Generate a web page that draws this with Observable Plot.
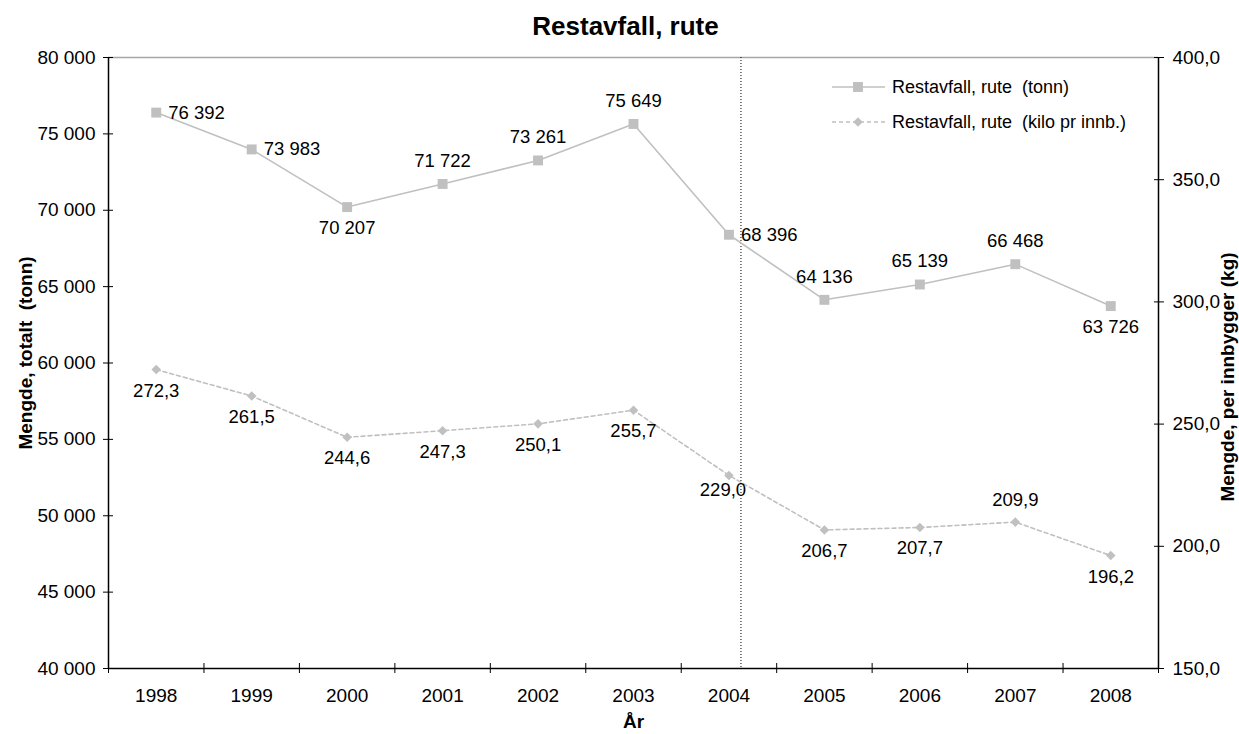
<!DOCTYPE html>
<html>
<head>
<meta charset="utf-8">
<script src="https://cdn.jsdelivr.net/npm/d3@7"></script>
<script src="https://cdn.jsdelivr.net/npm/@observablehq/plot@0.6"></script>
<style>
  html, body { margin: 0; padding: 0; background: #fff; }
  #wrap { position: relative; width: 1239px; height: 734px; font-family: "Liberation Sans", Arial, sans-serif; }
  svg text { white-space: pre; }
</style>
</head>
<body>
<div id="wrap"></div>
<script>
// ---- data ----
const years = [1998, 1999, 2000, 2001, 2002, 2003, 2004, 2005, 2006, 2007, 2008];
const tonn = [76392, 73983, 70207, 71722, 73261, 75649, 68396, 64136, 65139, 66468, 63726];
const kiloPerInnb = [272.3, 261.5, 244.6, 247.3, 250.1, 255.7, 229.0, 206.7, 207.7, 209.9, 196.2];
const tonnLabelPlacement = ["right", "right", "below", "above", "above", "above", "right", "above", "above", "above", "below"];
const kiloLabelPlacement = ["below", "below", "below", "below", "below", "below", "belowLeft", "below", "below", "above", "below"];
const leftTicks = [40000, 45000, 50000, 55000, 60000, 65000, 70000, 75000, 80000];
const rightTicks = [150, 200, 250, 300, 350, 400];
const markedYear = 2004;
const title = "Restavfall, rute";
const leftTitle = "Mengde, totalt  (tonn)";
const rightTitle = "Mengde, per innbygger (kg)";
const xTitle = "År";
const seriesNames = ["Restavfall, rute  (tonn)", "Restavfall, rute  (kilo pr innb.)"];

// ---- helpers ----
const loc = d3.formatLocale({decimal: ",", thousands: " ", grouping: [3], currency: ["", ""]});
const fmtInt = loc.format(",.0f");
const fmt1 = loc.format(",.1f");
const leftDomain = [d3.min(leftTicks), d3.max(leftTicks)];
const rightDomain = [d3.min(rightTicks), d3.max(rightTicks)];
const toLeft = v => leftDomain[0] + (v - rightDomain[0]) * (leftDomain[1] - leftDomain[0]) / (rightDomain[1] - rightDomain[0]);
const toRight = v => rightDomain[0] + (v - leftDomain[0]) * (rightDomain[1] - rightDomain[0]) / (leftDomain[1] - leftDomain[0]);

const rows = years.map((year, i) => ({
  year, tonn: tonn[i], kilo: kiloPerInnb[i], kiloLeft: toLeft(kiloPerInnb[i]),
  tPos: tonnLabelPlacement[i], kPos: kiloLabelPlacement[i]
}));
const xMin = d3.min(years) - 0.5, xMax = d3.max(years) + 0.5;
const boundaries = d3.range(xMin, xMax + 0.01, 1);

const grey = "#c0c0c0";
const lblBase = {fill: "black", fontSize: 18.5};

const chart = Plot.plot({
  width: 1239, height: 734,
  marginTop: 57, marginBottom: 66, marginLeft: 108, marginRight: 81,
  style: {fontFamily: "'Liberation Sans', Arial, sans-serif", fontSize: "19px", background: "white", color: "black"},
  x: {domain: [xMin, xMax], axis: null, label: null},
  y: {domain: leftDomain, axis: null, label: null},
  marks: [
    Plot.ruleY([leftDomain[1]], {stroke: "#a6a6a6", strokeWidth: 1.5}),
    Plot.ruleX([markedYear], {dx: 12, stroke: "black", strokeWidth: 1, strokeDasharray: "1,2"}),
    Plot.line(rows, {x: "year", y: "tonn", stroke: grey, strokeWidth: 1.6}),
    Plot.line(rows, {x: "year", y: "kiloLeft", stroke: grey, strokeWidth: 1.6, strokeDasharray: "4,3"}),
    Plot.dot(rows, {x: "year", y: "tonn", symbol: "square", r: 5.6, fill: grey, stroke: "none"}),
    Plot.dot(rows, {x: "year", y: "kiloLeft", symbol: "diamond2", r: 4.3, fill: grey, stroke: "none"}),
    // tonn labels
    Plot.text(rows.filter(d => d.tPos === "right"), {x: "year", y: "tonn", text: d => fmtInt(d.tonn), dx: 12, textAnchor: "start", ...lblBase}),
    Plot.text(rows.filter(d => d.tPos === "above"), {x: "year", y: "tonn", text: d => fmtInt(d.tonn), dy: -23, ...lblBase}),
    Plot.text(rows.filter(d => d.tPos === "below"), {x: "year", y: "tonn", text: d => fmtInt(d.tonn), dy: 21, ...lblBase}),
    // kilo labels
    Plot.text(rows.filter(d => d.kPos === "below"), {x: "year", y: "kiloLeft", text: d => fmt1(d.kilo), dy: 21, ...lblBase}),
    Plot.text(rows.filter(d => d.kPos === "belowLeft"), {x: "year", y: "kiloLeft", text: d => fmt1(d.kilo), dx: -6, dy: 15, ...lblBase}),
    Plot.text(rows.filter(d => d.kPos === "above"), {x: "year", y: "kiloLeft", text: d => fmt1(d.kilo), dy: -22, ...lblBase}),
    // frame axes lines
    Plot.ruleX([xMin, xMax], {stroke: "black", strokeWidth: 1.5}),
    Plot.ruleY([leftDomain[0]], {stroke: "black", strokeWidth: 1.5}),
    // x ticks (crossing) and labels
    Plot.axisX(boundaries, {anchor: "bottom", tickSize: 10, dy: -5, tickFormat: () => "", stroke: "black", label: null}),
    Plot.axisX(years, {anchor: "bottom", tickSize: 0, tickPadding: 20, tickFormat: d => String(d), fontSize: 19, label: null}),
    // left axis
    Plot.axisY(leftTicks, {anchor: "left", tickSize: 10, dx: 5, tickFormat: () => "", stroke: "black", label: null}),
    Plot.axisY(leftTicks, {anchor: "left", tickSize: 0, tickPadding: 13, tickFormat: fmtInt, fontSize: 19, label: null}),
    // right axis
    Plot.axisY(rightTicks.map(toLeft), {anchor: "right", tickSize: 10, dx: -5, tickFormat: () => "", stroke: "black", label: null}),
    Plot.axisY(rightTicks.map(toLeft), {anchor: "right", tickSize: 0, tickPadding: 14, tickFormat: d => fmt1(toRight(d)), fontSize: 19, label: null}),
    // titles
    Plot.text([title], {frameAnchor: "top", text: d => d, dx: -8, dy: -41, fontSize: 26, fontWeight: "bold", fill: "black"}),
    Plot.text([leftTitle], {frameAnchor: "left", textAnchor: "middle", text: d => d, dx: -83, dy: -10, rotate: -90, fontSize: 19, fontWeight: "bold", fill: "black"}),
    Plot.text([rightTitle], {frameAnchor: "right", textAnchor: "middle", text: d => d, dx: 69, dy: 14, rotate: -90, fontSize: 19, fontWeight: "bold", fill: "black"}),
    Plot.text([xTitle], {frameAnchor: "bottom", text: d => d, dy: 59, fontSize: 19, fontWeight: "bold", fill: "black"})
  ]
});

const wrap = document.getElementById("wrap");
wrap.appendChild(chart);

// ---- legend ----
const ns = "http://www.w3.org/2000/svg";
const lg = document.createElementNS(ns, "svg");
lg.setAttribute("width", "320");
lg.setAttribute("height", "70");
lg.style.position = "absolute";
lg.style.left = "830px";
lg.style.top = "70px";
lg.style.fontFamily = "'Liberation Sans', Arial, sans-serif";
const rowsY = [17, 52];
seriesNames.forEach((name, i) => {
  const y = rowsY[i];
  const ln = document.createElementNS(ns, "line");
  ln.setAttribute("x1", 2); ln.setAttribute("x2", 55);
  ln.setAttribute("y1", y); ln.setAttribute("y2", y);
  ln.setAttribute("stroke", grey); ln.setAttribute("stroke-width", 1.6);
  if (i === 1) ln.setAttribute("stroke-dasharray", "4,3");
  lg.appendChild(ln);
  const mk = document.createElementNS(ns, "path");
  const sym = i === 0 ? d3.symbolSquare : d3.symbolDiamond2;
  const r = i === 0 ? 5.6 : 4.3;
  mk.setAttribute("d", d3.symbol(sym, Math.PI * r * r)());
  mk.setAttribute("transform", `translate(28,${y})`);
  mk.setAttribute("fill", grey);
  lg.appendChild(mk);
  const tx = document.createElementNS(ns, "text");
  tx.setAttribute("x", 62); tx.setAttribute("y", y);
  tx.setAttribute("dy", "0.35em");
  tx.setAttribute("font-size", 18);
  tx.setAttribute("fill", "black");
  tx.style.whiteSpace = "pre";
  tx.textContent = name;
  lg.appendChild(tx);
});
wrap.appendChild(lg);
</script>
</body>
</html>
